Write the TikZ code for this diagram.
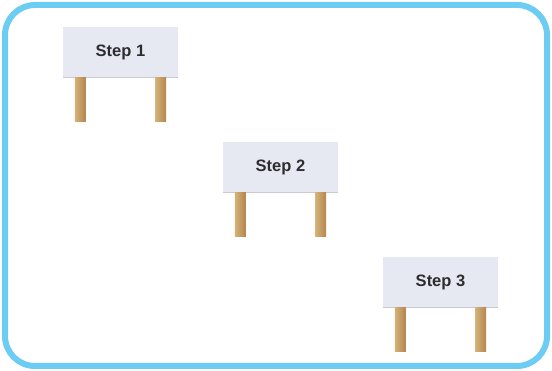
\documentclass[tikz,border=0pt]{standalone}
\usepackage{fontspec}
\setmainfont{Liberation Sans}
\usepackage{xcolor}
\definecolor{frameblue}{RGB}{108, 204, 244}
\definecolor{boardgray}{RGB}{230, 232, 242}
\definecolor{boardshade}{RGB}{200, 202, 212}
\definecolor{textgray}{RGB}{45, 45, 48}
\definecolor{woodlight}{RGB}{214, 178, 120}
\definecolor{wooddark}{RGB}{178, 134, 78}
\usetikzlibrary{positioning, calc}

\tikzset{
    signboard/.style={fill=boardgray, minimum width=115pt, minimum height=50pt,
        inner sep=0pt, font=\fontsize{16.5}{19}\selectfont\bfseries, text=textgray},
    woodpost/.style={left color=woodlight, right color=wooddark, draw=none}
}

\begin{document}
\begin{tikzpicture}[x=1pt, y=-1pt]
    \useasboundingbox (0, 0) rectangle (552, 371);
    \draw[frameblue, line width=6pt, rounded corners=30pt] (5, 5) rectangle (547, 366);

    \foreach \i/\dx/\dy in {1/0/0, 2/160/115, 3/320/230} {
        \node[signboard] (board\i) at (120.5+\dx, 52+\dy) {Step \i};
        \draw[boardshade, line width=0.8pt] (board\i.south west) -- (board\i.south east);
        % two legs under the board
        \shade[woodpost] ($(board\i.south west) + (12, 0)$) rectangle ++(11, 44);
        \shade[woodpost] ($(board\i.south east) + (-23, 0)$) rectangle ++(11, 44);
    }
\end{tikzpicture}
\end{document}
